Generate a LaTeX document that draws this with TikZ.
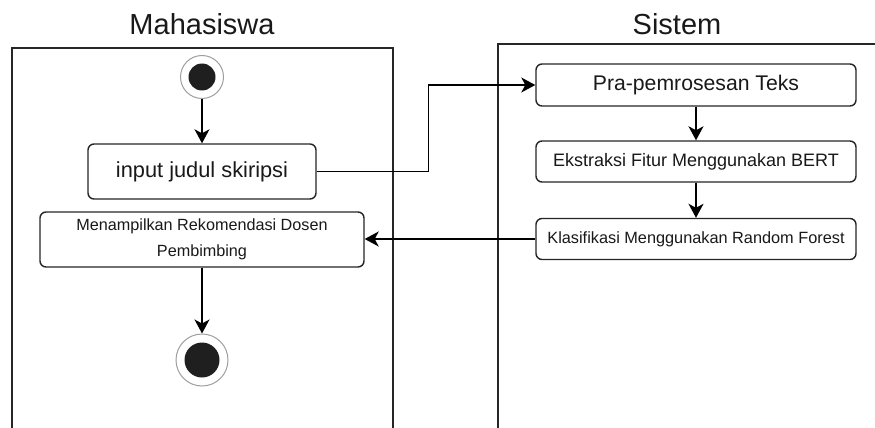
\documentclass[tikz,border=0pt]{standalone}
\usepackage{fontspec}
\setmainfont{Liberation Sans}
\usetikzlibrary{arrows.meta}
\begin{document}
\begin{tikzpicture}[x=1pt,y=-1pt,
  lane/.style={draw=black!85, line width=1.6pt},
  act/.style={draw=black!85, line width=1.4pt, rounded corners=6pt, fill=white, align=center, inner sep=0pt, text=black!90},
  flow/.style={draw=black, line width=1.5pt, -{Stealth[length=14pt,width=15pt,inset=4pt]}},
  ring/.style={circle, draw=gray!75, line width=1pt, fill=white, inner sep=0pt},
  dot/.style={circle, fill=black!88, inner sep=0pt},
  title/.style={font=\fontsize{29}{33}\selectfont, text=black!90}]
\useasboundingbox (0,0) rectangle (875,428);

% lanes
\draw[lane] (12,429) |- (393,48) -- (393,429);
\draw[lane] (498,429) |- (876,44);
\node[title] (t1) at (202,24) {Mahasiswa};
\node[title] (t2) at (677,24) {Sistem};

% start / end
\node[ring, minimum size=43pt] (start) at (202,77) {};
\node[dot, minimum size=27pt] (startdot) at (start) {};
\node[ring, minimum size=52pt] (end) at (202,360) {};
\node[dot, minimum size=35pt] (enddot) at (end) {};

% activities
\node[act, minimum width=228pt, minimum height=55pt, font=\fontsize{21.8}{24}\selectfont] (input) at (202,171.5) {input judul skiripsi};
\node[act, minimum width=324pt, minimum height=55pt, font=\fontsize{16.2}{26}\selectfont] (menu) at (202,239.5) {Menampilkan Rekomendasi Dosen\\Pembimbing};
\node[act, minimum width=320pt, minimum height=42pt, font=\fontsize{21.2}{24}\selectfont] (pra) at (696,85) {Pra-pemrosesan Teks};
\node[act, minimum width=320pt, minimum height=41pt, font=\fontsize{18}{20}\selectfont] (ekst) at (696,161.5) {Ekstraksi Fitur Menggunakan BERT};
\node[act, minimum width=320pt, minimum height=41pt, font=\fontsize{16.3}{20}\selectfont] (klas) at (696,239) {Klasifikasi Menggunakan Random Forest};

% flows
\draw[flow] (start) -- (input);
\draw[flow] (input.east) -- ++(112,0) |- (pra.west);
\draw[flow] (pra) -- (ekst);
\draw[flow] (ekst) -- (klas);
\draw[flow] (klas.west) -- (klas.west -| menu.east);
\draw[flow] (menu) -- (end);
\end{tikzpicture}
\end{document}
